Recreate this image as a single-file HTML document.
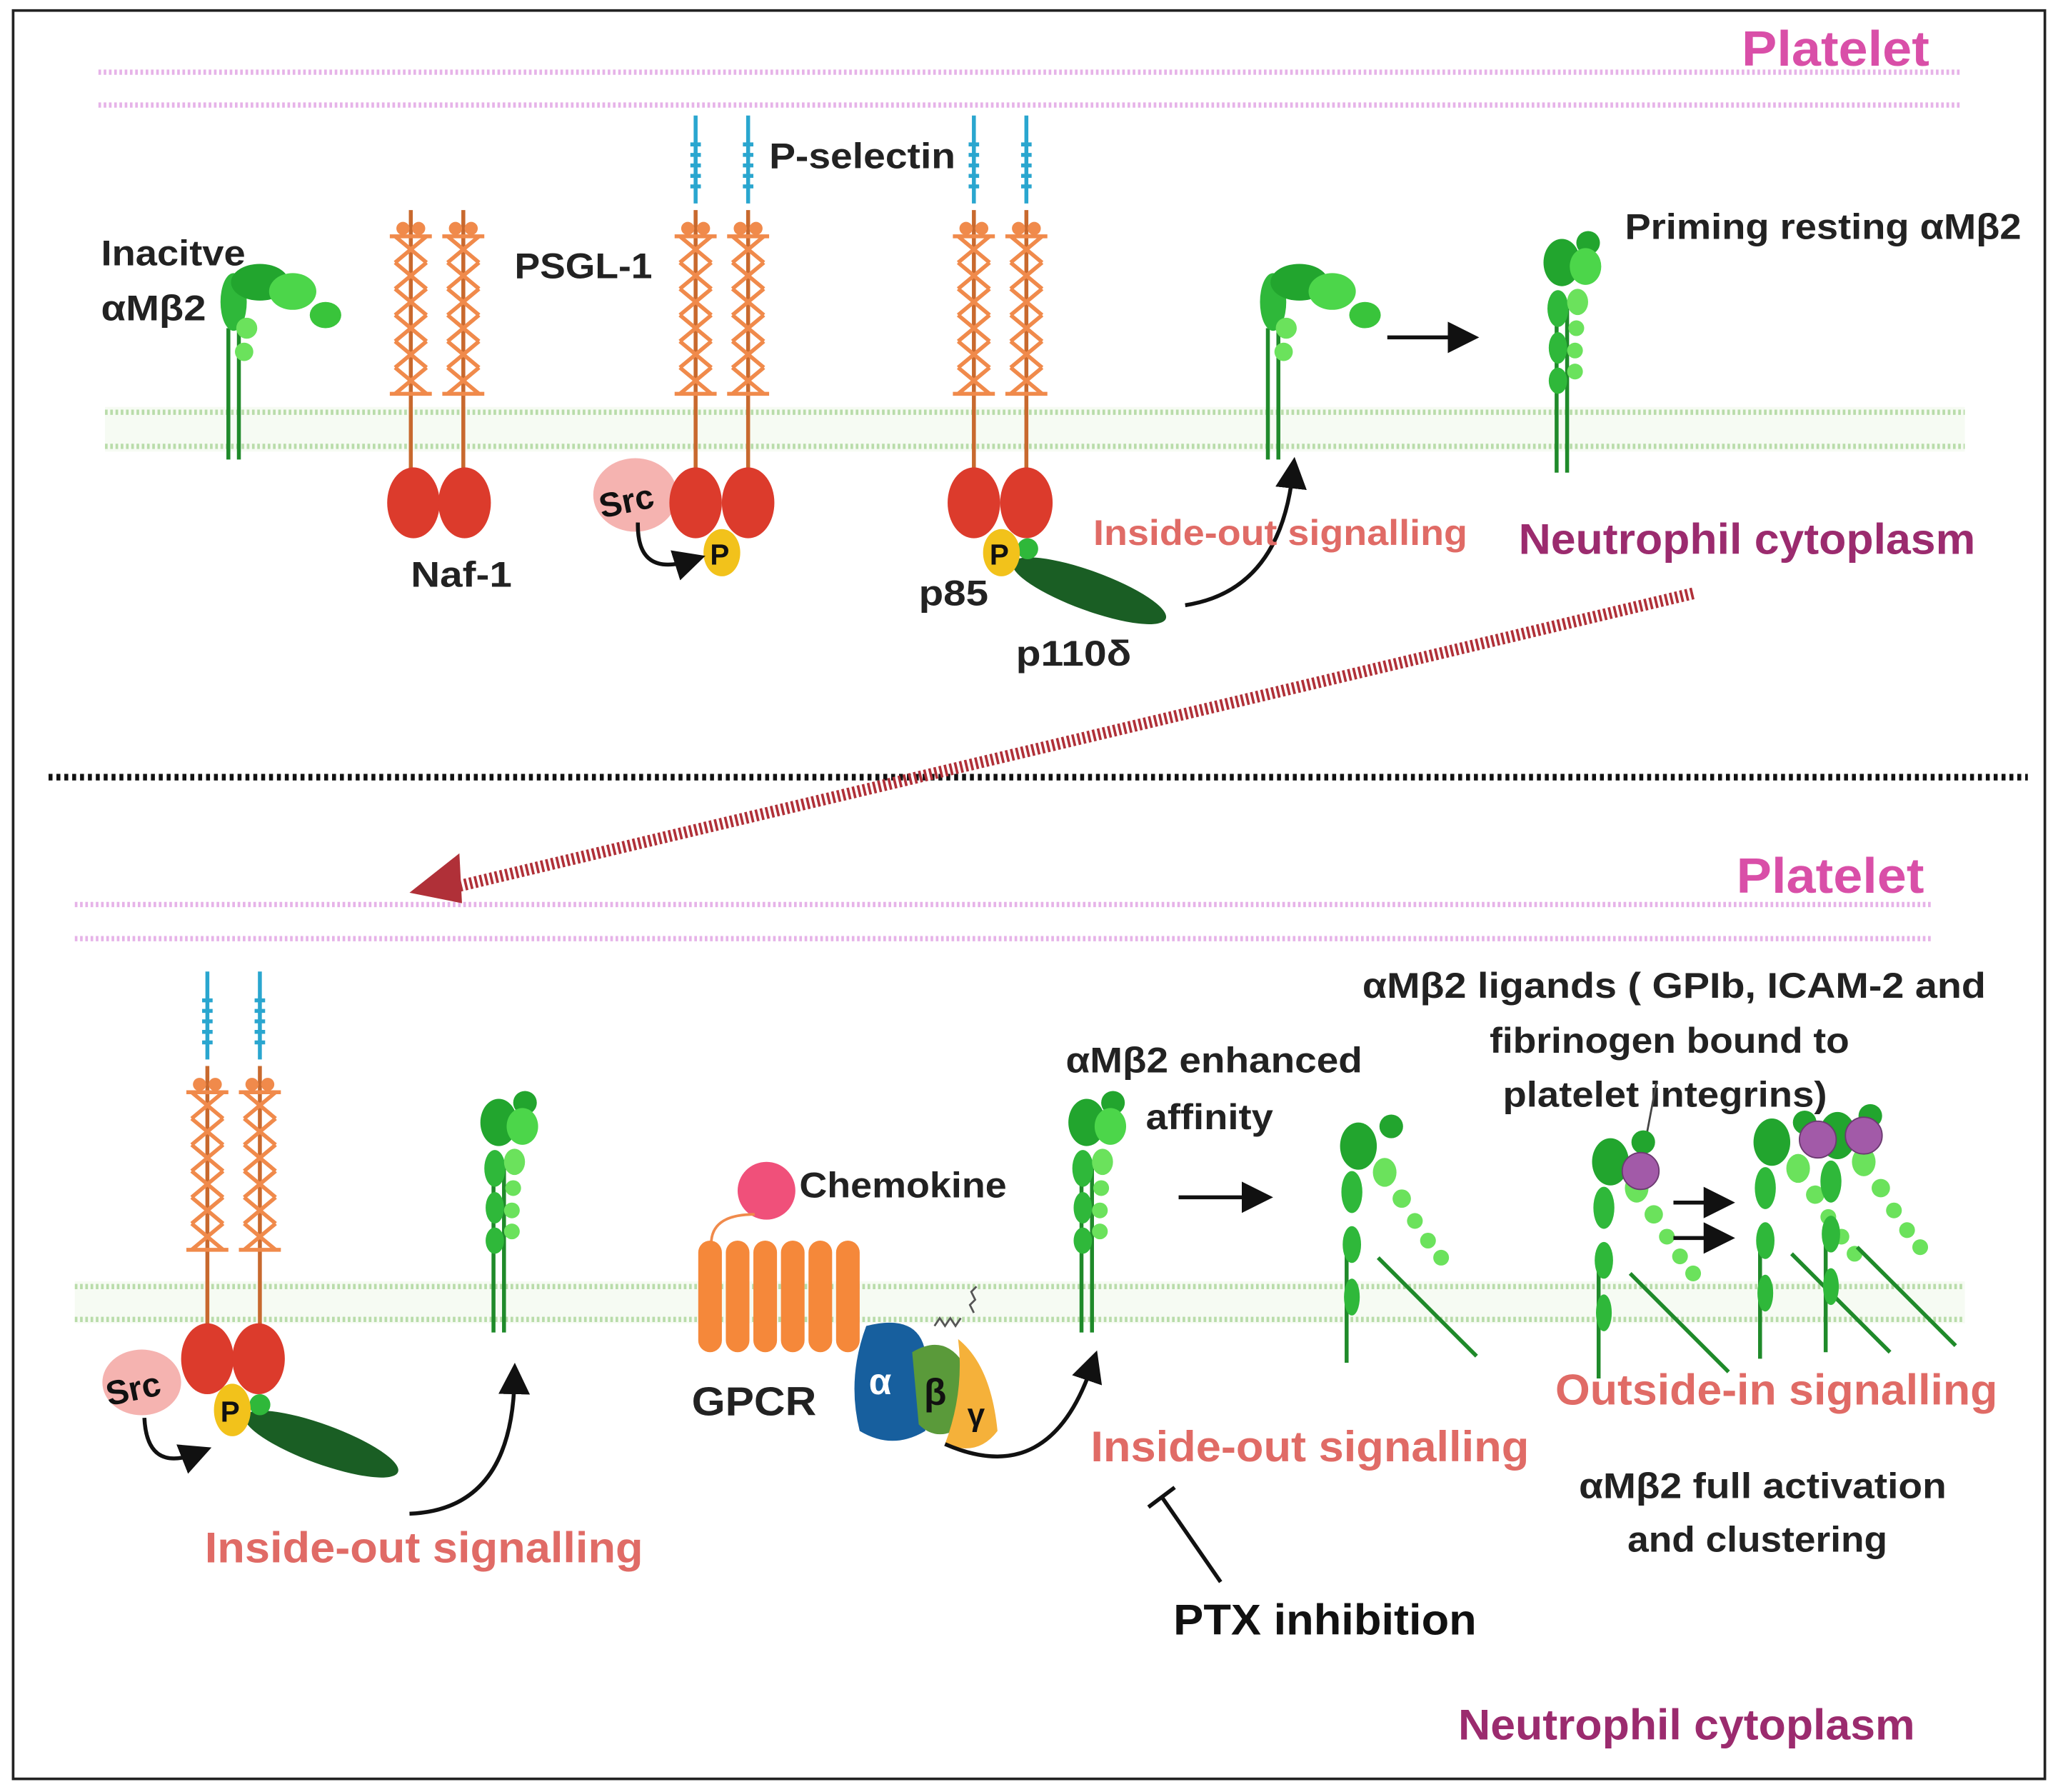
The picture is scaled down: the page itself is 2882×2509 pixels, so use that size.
<!DOCTYPE html>
<html><head><meta charset="utf-8"><style>
html,body{margin:0;padding:0;background:#fff}
svg{display:block}
text{font-family:"Liberation Sans",sans-serif;font-weight:bold}
</style></head><body>
<svg width="2882" height="2509" viewBox="0 0 1568 1365" preserveAspectRatio="none" xmlns="http://www.w3.org/2000/svg">
<defs>
<g id="stalk">
  <line x1="0" y1="160" x2="0" y2="370" stroke="#c8692e" stroke-width="3"/>
  <g stroke="#f08a4b" stroke-width="3" fill="none">
    <path d="M-12 180 L12 200 M12 180 L-12 200 M-12 200 L12 220 M12 200 L-12 220 M-12 220 L12 240 M12 220 L-12 240 M-12 240 L12 260 M12 240 L-12 260 M-12 260 L12 280 M12 260 L-12 280 M-12 280 L12 300 M12 280 L-12 300"/>
    <line x1="-16" y1="180" x2="16" y2="180"/><line x1="-16" y1="300" x2="16" y2="300"/>
  </g>
  <circle cx="-6" cy="174" r="5" fill="#f08a4b"/><circle cx="6" cy="174" r="5" fill="#f08a4b"/>
</g>
<g id="psel">
  <line x1="0" y1="88" x2="0" y2="155" stroke="#2aa6cf" stroke-width="3"/>
  <path d="M-4 110 h8 M-4 118 h8 M-4 126 h8 M-4 134 h8 M-4 142 h8" stroke="#2aa6cf" stroke-width="3"/>
</g>
<g id="bent">
  <line x1="-4" y1="250" x2="-4" y2="350" stroke="#1f8a2a" stroke-width="3"/>
  <line x1="4" y1="250" x2="4" y2="350" stroke="#1f8a2a" stroke-width="3"/>
  <ellipse cx="0" cy="230" rx="10" ry="22" fill="#2fb83a"/>
  <ellipse cx="20" cy="215" rx="22" ry="14" fill="#22a52e"/>
  <ellipse cx="45" cy="222" rx="18" ry="14" fill="#4cd64a"/>
  <ellipse cx="70" cy="240" rx="12" ry="10" fill="#39c43b"/>
  <circle cx="10" cy="250" r="8" fill="#6be25c"/><circle cx="8" cy="268" r="7" fill="#6be25c"/>
</g>
<g id="upright">
  <line x1="-4" y1="60" x2="-4" y2="185" stroke="#1f8a2a" stroke-width="3"/>
  <line x1="4" y1="60" x2="4" y2="185" stroke="#1f8a2a" stroke-width="3"/>
  <ellipse cx="0" cy="25" rx="14" ry="18" fill="#22a52e"/>
  <circle cx="20" cy="10" r="9" fill="#22a52e"/>
  <ellipse cx="18" cy="28" rx="12" ry="14" fill="#4cd64a"/>
  <ellipse cx="-3" cy="60" rx="8" ry="14" fill="#2fb83a"/>
  <ellipse cx="-3" cy="90" rx="7" ry="12" fill="#2fb83a"/>
  <ellipse cx="-3" cy="115" rx="7" ry="10" fill="#2fb83a"/>
  <ellipse cx="12" cy="55" rx="8" ry="10" fill="#6be25c"/>
  <circle cx="11" cy="75" r="6" fill="#6be25c"/><circle cx="10" cy="92" r="6" fill="#6be25c"/><circle cx="10" cy="108" r="6" fill="#6be25c"/>
</g>
<g id="ext">
  <line x1="-4" y1="100" x2="-4" y2="190" stroke="#1f8a2a" stroke-width="3"/>
  <line x1="20" y1="110" x2="95" y2="185" stroke="#1f8a2a" stroke-width="3"/>
  <ellipse cx="5" cy="25" rx="14" ry="18" fill="#22a52e"/>
  <circle cx="30" cy="10" r="9" fill="#22a52e"/>
  <ellipse cx="0" cy="60" rx="8" ry="16" fill="#2fb83a"/>
  <ellipse cx="0" cy="100" rx="7" ry="14" fill="#2fb83a"/>
  <ellipse cx="0" cy="140" rx="6" ry="14" fill="#2fb83a"/>
  <ellipse cx="25" cy="45" rx="9" ry="11" fill="#6be25c"/>
  <circle cx="38" cy="65" r="7" fill="#6be25c"/><circle cx="48" cy="82" r="6" fill="#6be25c"/><circle cx="58" cy="97" r="6" fill="#6be25c"/><circle cx="68" cy="110" r="6" fill="#6be25c"/>
</g>
<marker id="ah" markerWidth="8" markerHeight="8" refX="4" refY="4" orient="auto" markerUnits="strokeWidth"><path d="M0 0 L8 4 L0 8z" fill="#111"/></marker>
</defs>

<rect x="10" y="8" width="1548" height="1347" fill="none" stroke="#222" stroke-width="2"/>

<g stroke="#e6b3e8" stroke-width="4" stroke-dasharray="2 2">
<line x1="75" y1="55" x2="1495" y2="55"/><line x1="75" y1="80" x2="1495" y2="80"/>
<line x1="57" y1="689" x2="1473" y2="689"/><line x1="57" y1="715" x2="1473" y2="715"/>
</g>
<rect x="80" y="310" width="1417" height="34" fill="#f6fbf3"/>
<rect x="57" y="976" width="1440" height="32" fill="#f6fbf3"/>
<g stroke="#b9dcaa" stroke-width="4" stroke-dasharray="2 2">
<line x1="80" y1="314" x2="1497" y2="314"/><line x1="80" y1="340" x2="1497" y2="340"/>
<line x1="57" y1="980" x2="1497" y2="980"/><line x1="57" y1="1005" x2="1497" y2="1005"/>
</g>
<line x1="37" y1="592" x2="1545" y2="592" stroke="#111" stroke-width="5" stroke-dasharray="3 3"/>

<g lengthAdjust="spacingAndGlyphs">
<text x="1327" y="50" font-size="38" fill="#d94fa8" textLength="143" lengthAdjust="spacingAndGlyphs">Platelet</text>
<text x="77" y="202" font-size="27" fill="#222" textLength="110" lengthAdjust="spacingAndGlyphs">Inacitve</text>
<text x="77" y="244" font-size="27" fill="#222" textLength="80" lengthAdjust="spacingAndGlyphs">αMβ2</text>
</g>
<use href="#bent" x="178" y="0"/>

<use href="#stalk" x="313" y="0"/><use href="#stalk" x="353" y="0"/>
<ellipse cx="315" cy="383" rx="20" ry="27" fill="#dc3b2c"/><ellipse cx="354" cy="383" rx="20" ry="27" fill="#dc3b2c"/>
<text x="313" y="447" font-size="27" fill="#222" textLength="77" lengthAdjust="spacingAndGlyphs">Naf-1</text>
<text x="392" y="212" font-size="27" fill="#222" textLength="105" lengthAdjust="spacingAndGlyphs">PSGL-1</text>

<use href="#psel" x="530" y="0"/><use href="#psel" x="570" y="0"/>
<use href="#stalk" x="530" y="0"/><use href="#stalk" x="570" y="0"/>
<ellipse cx="484" cy="377" rx="32" ry="28" fill="#f5b3b0"/>
<ellipse cx="530" cy="383" rx="20" ry="27" fill="#dc3b2c"/><ellipse cx="570" cy="383" rx="20" ry="27" fill="#dc3b2c"/>
<text x="456" y="390" font-size="26" fill="#111" transform="rotate(-12 480 380)">Src</text>
<ellipse cx="550" cy="421" rx="14" ry="18" fill="#f2c21b"/><text x="541" y="430" font-size="22" fill="#111">P</text>
<path d="M486 398 Q485 440 526 427" fill="none" stroke="#111" stroke-width="3" marker-end="url(#ah)"/>
<text x="586" y="128" font-size="27" fill="#222" textLength="142" lengthAdjust="spacingAndGlyphs">P-selectin</text>

<use href="#psel" x="742" y="0"/><use href="#psel" x="782" y="0"/>
<use href="#stalk" x="742" y="0"/><use href="#stalk" x="782" y="0"/>
<ellipse cx="742" cy="383" rx="20" ry="27" fill="#dc3b2c"/><ellipse cx="782" cy="383" rx="20" ry="27" fill="#dc3b2c"/>
<ellipse cx="830" cy="450" rx="62" ry="15" fill="#1a5e24" transform="rotate(20 830 450)"/>
<circle cx="783" cy="418" r="8" fill="#2fb83a"/>
<ellipse cx="763" cy="421" rx="14" ry="18" fill="#f2c21b"/><text x="754" y="430" font-size="22" fill="#111">P</text>
<text x="700" y="461" font-size="27" fill="#222" textLength="53" lengthAdjust="spacingAndGlyphs">p85</text>
<text x="774" y="507" font-size="27" fill="#222" textLength="88" lengthAdjust="spacingAndGlyphs">p110δ</text>
<path d="M903 461 Q975 450 985 360" fill="none" stroke="#111" stroke-width="3" marker-end="url(#ah)"/>
<text x="833" y="415" font-size="27" fill="#e06b66" textLength="285" lengthAdjust="spacingAndGlyphs">Inside-out signalling</text>
<use href="#bent" x="970" y="0"/>
<line x1="1057" y1="257" x2="1115" y2="257" stroke="#111" stroke-width="3" marker-end="url(#ah)"/>
<use href="#upright" x="1190" y="175"/>
<text x="1238" y="182" font-size="27" fill="#222" textLength="302" lengthAdjust="spacingAndGlyphs">Priming resting αMβ2</text>
<text x="1157" y="422" font-size="33" fill="#9b2b6e" textLength="348" lengthAdjust="spacingAndGlyphs">Neutrophil cytoplasm</text>

<line x1="1290" y1="452" x2="345" y2="676" stroke="#b03038" stroke-width="9" stroke-dasharray="2 2"/>
<path d="M312 680 L350 650 L352 688z" fill="#b03038"/>

<text x="1323" y="680" font-size="38" fill="#d94fa8" textLength="143" lengthAdjust="spacingAndGlyphs">Platelet</text>
<use href="#psel" x="158" y="652"/><use href="#psel" x="198" y="652"/>
<use href="#stalk" x="158" y="652"/><use href="#stalk" x="198" y="652"/>
<ellipse cx="158" cy="1035" rx="20" ry="27" fill="#dc3b2c"/><ellipse cx="197" cy="1035" rx="20" ry="27" fill="#dc3b2c"/>
<ellipse cx="245" cy="1100" rx="62" ry="15" fill="#1a5e24" transform="rotate(20 245 1100)"/>
<circle cx="198" cy="1070" r="8" fill="#2fb83a"/>
<ellipse cx="108" cy="1053" rx="30" ry="25" fill="#f5b3b0"/>
<text x="80" y="1066" font-size="26" fill="#111" transform="rotate(-12 105 1055)">Src</text>
<ellipse cx="177" cy="1074" rx="14" ry="20" fill="#f2c21b"/><text x="168" y="1083" font-size="22" fill="#111">P</text>
<path d="M110 1080 Q112 1122 150 1107" fill="none" stroke="#111" stroke-width="3" marker-end="url(#ah)"/>
<path d="M312 1153 Q390 1150 392 1050" fill="none" stroke="#111" stroke-width="3" marker-end="url(#ah)"/>
<text x="156" y="1190" font-size="33" fill="#e06b66" textLength="334" lengthAdjust="spacingAndGlyphs">Inside-out signalling</text>
<use href="#upright" x="380" y="830"/>

<circle cx="584" cy="907" r="22" fill="#f0507a"/>
<path d="M575 925 Q540 925 542 950" fill="none" stroke="#f08a4b" stroke-width="2"/>
<g fill="#f5883a">
<rect x="532" y="945" width="18" height="85" rx="9"/><rect x="553" y="945" width="18" height="85" rx="9"/><rect x="574" y="945" width="18" height="85" rx="9"/><rect x="595" y="945" width="18" height="85" rx="9"/><rect x="616" y="945" width="18" height="85" rx="9"/><rect x="637" y="945" width="18" height="85" rx="9"/>
</g>
<text x="609" y="912" font-size="27" fill="#222" textLength="158" lengthAdjust="spacingAndGlyphs">Chemokine</text>
<text x="527" y="1078" font-size="31" fill="#222" textLength="95" lengthAdjust="spacingAndGlyphs">GPCR</text>
<path d="M660 1010 Q700 1000 705 1030 L705 1090 Q680 1105 655 1090 Q645 1050 660 1010z" fill="#175f9e"/>
<path d="M695 1030 Q720 1015 735 1040 L735 1085 Q715 1100 700 1085z" fill="#5a9a3a"/>
<path d="M730 1020 Q755 1040 760 1090 Q745 1110 720 1100 Q735 1060 730 1020z" fill="#f5b13a"/>
<path d="M712 1010 l4 -6 l4 6 l4 -6 l4 6 l4 -6 M742 1000 l-3 -6 l4 -4 l-3 -6 l4 -4" stroke="#555" stroke-width="1.5" fill="none"/>
<text x="662" y="1062" font-size="28" fill="#fff">α</text>
<text x="704" y="1070" font-size="28" fill="#111">β</text>
<text x="737" y="1086" font-size="24" fill="#111">γ</text>
<path d="M720 1100 Q800 1135 832 1040" fill="none" stroke="#111" stroke-width="3" marker-end="url(#ah)"/>
<use href="#upright" x="828" y="830"/>
<text x="812" y="817" font-size="27" fill="#222" textLength="226" lengthAdjust="spacingAndGlyphs">αMβ2 enhanced</text>
<text x="873" y="860" font-size="27" fill="#222" textLength="97" lengthAdjust="spacingAndGlyphs">affinity</text>
<text x="831" y="1113" font-size="33" fill="#e06b66" textLength="334" lengthAdjust="spacingAndGlyphs">Inside-out signalling</text>
<line x1="930" y1="1205" x2="885" y2="1140" stroke="#111" stroke-width="3"/>
<line x1="875" y1="1148" x2="895" y2="1133" stroke="#111" stroke-width="3"/>
<text x="894" y="1245" font-size="33" fill="#111" textLength="231" lengthAdjust="spacingAndGlyphs">PTX inhibition</text>
<line x1="898" y1="912" x2="958" y2="912" stroke="#111" stroke-width="3" marker-end="url(#ah)"/>
<use href="#ext" x="1030" y="848"/>

<text x="1038" y="760" font-size="27" fill="#222" textLength="475" lengthAdjust="spacingAndGlyphs">αMβ2  ligands ( GPIb, ICAM-2 and</text>
<text x="1135" y="802" font-size="27" fill="#222" textLength="274" lengthAdjust="spacingAndGlyphs">fibrinogen bound to</text>
<text x="1145" y="843" font-size="27" fill="#222" textLength="247" lengthAdjust="spacingAndGlyphs">platelet integrins)</text>
<line x1="1262" y1="825" x2="1252" y2="878" stroke="#444" stroke-width="1.5"/>
<use href="#ext" x="1222" y="860"/>
<circle cx="1250" cy="892" r="14" fill="#a25aa8" stroke="#6b3a70"/>
<line x1="1275" y1="916" x2="1310" y2="916" stroke="#111" stroke-width="3" marker-end="url(#ah)"/>
<line x1="1275" y1="943" x2="1310" y2="943" stroke="#111" stroke-width="3" marker-end="url(#ah)"/>
<use href="#ext" x="1345" y="845"/><use href="#ext" x="1395" y="840"/>
<circle cx="1385" cy="868" r="14" fill="#a25aa8" stroke="#6b3a70"/>
<circle cx="1420" cy="865" r="14" fill="#a25aa8" stroke="#6b3a70"/>
<text x="1185" y="1070" font-size="33" fill="#e06b66" textLength="337" lengthAdjust="spacingAndGlyphs">Outside-in signalling</text>
<text x="1203" y="1141" font-size="27" fill="#222" textLength="280" lengthAdjust="spacingAndGlyphs">αMβ2 full activation</text>
<text x="1240" y="1182" font-size="27" fill="#222" textLength="198" lengthAdjust="spacingAndGlyphs">and clustering</text>
<text x="1111" y="1325" font-size="33" fill="#9b2b6e" textLength="348" lengthAdjust="spacingAndGlyphs">Neutrophil cytoplasm</text>
</svg>
</body></html>
